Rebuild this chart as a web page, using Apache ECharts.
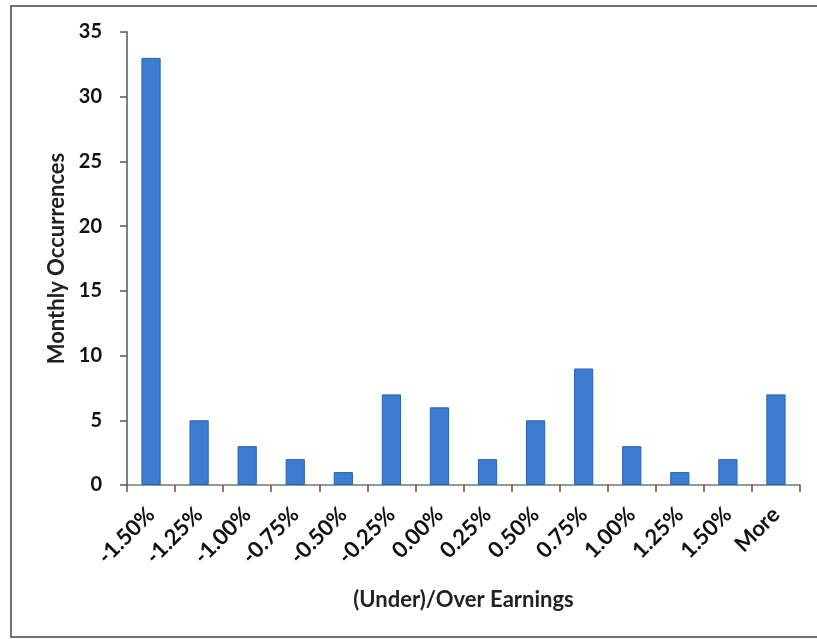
<!DOCTYPE html>
<html>
<head>
<meta charset="utf-8">
<script src="https://cdn.jsdelivr.net/npm/echarts@6/dist/echarts.min.js"></script>
<style>
html,body{margin:0;padding:0;background:#fff;}
#c{width:817px;height:639px;}
</style>
</head>
<body>
<div id="c"></div>
<script>
var categories = ['-1.50%','-1.25%','-1.00%','-0.75%','-0.50%','-0.25%','0.00%','0.25%','0.50%','0.75%','1.00%','1.25%','1.50%','More'];
var occurrences = [33, 5, 3, 2, 1, 7, 6, 2, 5, 9, 3, 1, 2, 7];
var yTicks = {min: 0, max: 35, interval: 5};

var chart = echarts.init(document.getElementById('c'));
var font = 'Lato, "Open Sans", sans-serif';
chart.setOption({
  animation: false,
  backgroundColor: '#fff',
  graphic: [{
    type: 'rect',
    shape: {x: 11, y: 6, width: 820, height: 631},
    style: {fill: 'none', stroke: '#444', lineWidth: 1.5},
    silent: true
  }],
  grid: {left: 127, right: 17, top: 32, bottom: 154, containLabel: false},
  xAxis: {
    type: 'category',
    data: categories,
    name: '(Under)/Over Earnings',
    nameLocation: 'middle',
    nameGap: 104,
    nameTextStyle: {fontFamily: font, fontWeight: 'bold', fontSize: 22, color: '#222'},
    axisLine: {lineStyle: {color: '#777', width: 1.5}},
    axisTick: {show: true, alignWithLabel: false, length: 7, inside: false, lineStyle: {color: '#555', width: 1.5}},
    axisLabel: {rotate: 45, interval: 0, fontFamily: font, fontWeight: 'bold', fontSize: 22, color: '#111', margin: 26},
    splitLine: {show: false}
  },
  yAxis: {
    type: 'value',
    min: yTicks.min, max: yTicks.max, interval: yTicks.interval,
    name: 'Monthly Occurrences',
    nameLocation: 'middle',
    nameGap: 58,
    nameRotate: 90,
    nameTextStyle: {fontFamily: font, fontWeight: 'bold', fontSize: 22, color: '#222'},
    axisLine: {show: true, lineStyle: {color: '#555', width: 1.5}},
    axisTick: {show: true, length: 7, lineStyle: {color: '#555', width: 1.5}},
    axisLabel: {fontFamily: font, fontWeight: 'bold', fontSize: 20, color: '#111', margin: 25},
    splitLine: {show: false}
  },
  series: [{
    type: 'bar',
    data: occurrences,
    barCategoryGap: '60%',
    itemStyle: {color: '#3c7dd0', borderColor: '#2a62ae', borderWidth: 1}
  }]
});
</script>
</body>
</html>
